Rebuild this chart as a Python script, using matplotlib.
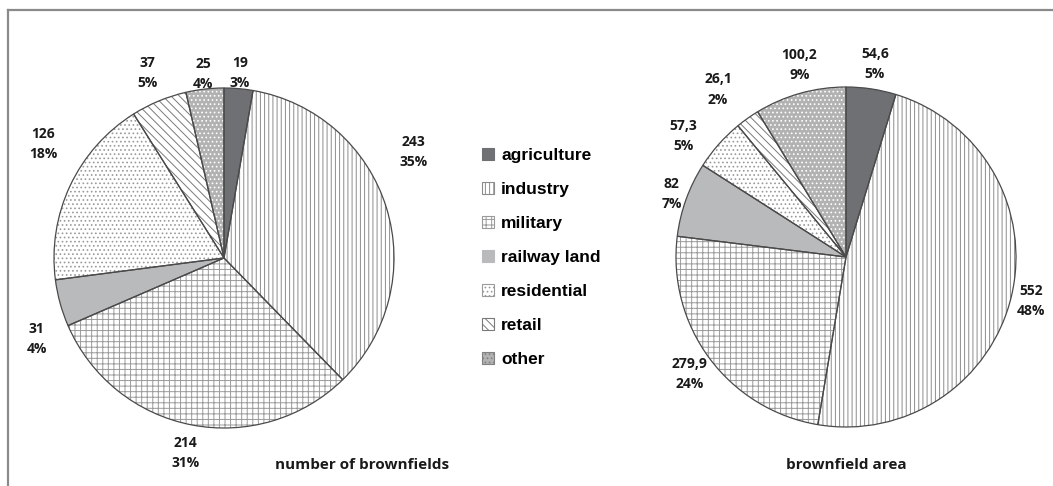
import numpy as np
import matplotlib
matplotlib.use('Agg')
import matplotlib.pyplot as plt
from matplotlib.patches import Patch
from matplotlib.lines import Line2D

# Data
categories = ['agriculture', 'industry', 'military', 'railway land',
              'residential', 'retail', 'other']
counts = [19, 243, 214, 31, 126, 37, 25]
areas = [54.6, 552, 279.9, 82, 57.3, 26.1, 100.2]

# Look of each slice
face_colors = ['#6e7073', 'white', 'white', '#b9babc', 'white', 'white', '#b2b2b2']
hatches = [None, '||||', '+++', None, '....', '\\\\\\\\', '....']
hatch_colors = ['#6e7073', '#8c8c8c', '#9a9a9a', '#b9babc', '#9a9a9a', '#7a7a7a', 'white']

# Label placement (radius in pie units, angle shift in degrees)
count_label_r = [1.09, 1.28, 1.17, 1.2, 1.26, 1.18, 1.09]
count_label_shift = [0, 12, 0, 8, -7, 0, 0]
area_label_r = [1.15, 1.12, 1.15, 1.09, 1.19, 1.24, 1.16]
area_label_shift = [0, 0, 0, 0, 5, 2, -2]

plt.rcParams['hatch.linewidth'] = 0.7

W, H = 1053, 486
fig = plt.figure(figsize=(W / 100, H / 100), dpi=100)
R = 170


def draw_pie(cx, cy, values, radii, shifts, fmt):
    ax = fig.add_axes([(cx - R) / W, (H - cy - R) / H, 2 * R / W, 2 * R / H])
    wedges, _ = ax.pie(values, startangle=90, counterclock=False,
                       colors=face_colors, hatch=hatches,
                       wedgeprops=dict(linewidth=0))
    for w, c in zip(wedges, hatch_colors):
        w.set_edgecolor(c)
    # outlines on top
    ax.pie(values, startangle=90, counterclock=False,
           wedgeprops=dict(fill=False, edgecolor='#4a4a4a', linewidth=0.9))
    total = sum(values)
    for w, v, r, s in zip(wedges, values, radii, shifts):
        ang = np.deg2rad((w.theta1 + w.theta2) / 2 + s)
        ax.text(r * np.cos(ang), r * np.sin(ang),
                f"{fmt(v)}\n{v / total * 100:.0f}%",
                ha='center', va='center', fontsize=10, fontweight='bold',
                family='Open Sans', color='#1a1a1a', linespacing=1.55)
    ax.set_xlim(-1, 1)
    ax.set_ylim(-1, 1)
    ax.axis('off')
    return wedges


draw_pie(224, 258, counts, count_label_r, count_label_shift, lambda v: f"{v:g}")
draw_pie(846, 257, areas, area_label_r, area_label_shift,
         lambda v: f"{v:g}".replace('.', ','))

fig.text(362 / W, 1 - 465 / H, 'number of brownfields', ha='center', va='center',
         fontsize=11, fontweight='bold', family='Open Sans', color='#1a1a1a')
fig.text(846 / W, 1 - 465 / H, 'brownfield area', ha='center', va='center',
         fontsize=11, fontweight='bold', family='Open Sans', color='#1a1a1a')

handles = [Patch(facecolor=fc, hatch=h, edgecolor=hc, linewidth=0.8)
           for fc, h, hc in zip(face_colors, hatches, hatch_colors)]
handles[6] = Patch(facecolor='#b2b2b2', hatch='....', edgecolor='#808080', linewidth=0.8)
fig.legend(handles, categories, loc='center left',
           bbox_to_anchor=(482 / W, 1 - 257.5 / H), frameon=False,
           prop=dict(family='Liberation Sans', weight='bold', size=12.5),
           handlelength=0.7, handleheight=0.7, handletextpad=0.4,
           labelspacing=1.08, borderpad=0, borderaxespad=0)

# frame lines (left and top)
fig.add_artist(Line2D([8 / W, 8 / W], [0, 1 - 10 / H], transform=fig.transFigure,
                      color='#8a8a8a', linewidth=1.6))
fig.add_artist(Line2D([8 / W, 1], [1 - 10 / H, 1 - 10 / H], transform=fig.transFigure,
                      color='#8a8a8a', linewidth=1.6))

fig.savefig('out.png', dpi=100, facecolor='white')
